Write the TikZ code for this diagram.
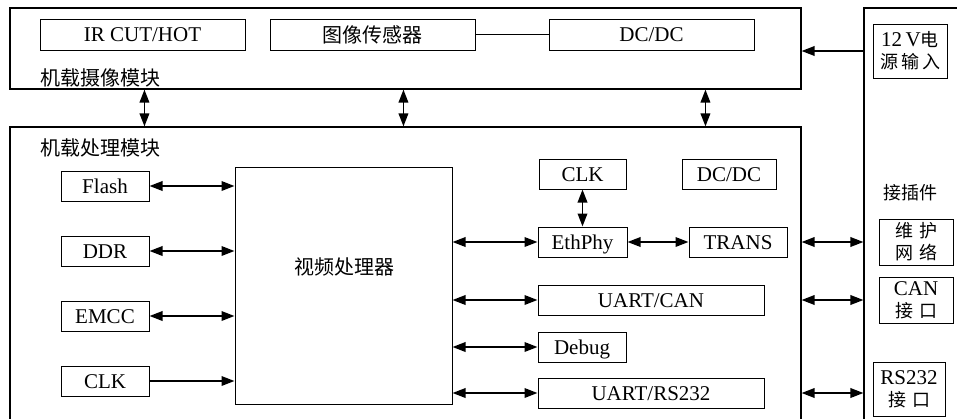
\documentclass[tikz,border=0pt]{standalone}
\usepackage{fontspec}
\setmainfont{Liberation Serif}
\newfontfamily\cjk{Noto Sans CJK SC}
\usetikzlibrary{arrows.meta}
\begin{document}
\begin{tikzpicture}[x=1pt,y=-1pt,
  box/.style={draw, line width=1pt, inner sep=0pt, align=center,
    font=\fontsize{21}{23}\selectfont},
  one/.style={box, text height=14pt, text depth=0pt},
  frame/.style={draw, line width=1.1pt, inner sep=0pt},
  lbl/.style={inner sep=0pt, font=\fontsize{20}{23}\selectfont\cjk},
  cn/.style={font=\fontsize{18}{23}\selectfont\cjk},
  biarrow/.style={line width=1.9pt,
    {Triangle[length=13pt,width=9.5pt]}-{Triangle[length=13pt,width=9.5pt]}},
  onearrow/.style={line width=1.9pt, -{Triangle[length=13pt,width=9.5pt]}}
]
\useasboundingbox (0,0) rectangle (957,418);
\clip (0,0) rectangle (957,418);

% camera module
\node[frame, minimum width=791pt, minimum height=81pt] (cam) at (405.5,48.5) {};
\node[one, minimum width=205pt, minimum height=31pt] (ir) at (142.5,34.5) {IR CUT/HOT};
\node[box, minimum width=205pt, minimum height=31pt, font=\fontsize{20}{23}\selectfont\cjk] (sensor) at (372.5,34.5) {图像传感器};
\node[one, minimum width=205pt, minimum height=31pt] (dc1) at (651.5,34.5) {DC/DC};
\node[lbl, anchor=west] (camlbl) at (40,78) {机载摄像模块};
\draw[line width=1pt] (sensor.east) -- (dc1.west);

% processing module
\node[frame, minimum width=791pt, minimum height=313pt] (proc) at (405.5,283.5) {};
\node[lbl, anchor=west] (proclbl) at (40,148) {机载处理模块};

\node[one, minimum width=88pt, minimum height=30pt] (flash) at (105,186) {Flash};
\node[one, minimum width=88pt, minimum height=30pt] (ddr) at (105,251) {DDR};
\node[one, minimum width=88pt, minimum height=30pt] (emcc) at (105,316) {EMCC};
\node[one, minimum width=88pt, minimum height=30pt] (clk1) at (105,381) {CLK};

\node[frame, line width=1pt, minimum width=217pt, minimum height=237pt] (vp) at (343.5,285.5) {};
\node[lbl] (vplbl) at (344,267) {视频处理器};

\node[one, minimum width=87pt, minimum height=30pt] (clk2) at (582.5,174) {CLK};
\node[one, minimum width=94pt, minimum height=30pt] (dc2) at (729,174) {DC/DC};
\node[one, minimum width=89pt, minimum height=30pt] (eth) at (582.5,242) {EthPhy};
\node[one, minimum width=98pt, minimum height=30pt] (trans) at (738,242) {TRANS};
\node[one, minimum width=226pt, minimum height=30pt] (ucan) at (651,300) {UART/CAN};
\node[one, minimum width=88pt, minimum height=30pt] (debug) at (582,347) {Debug};
\node[one, minimum width=226pt, minimum height=30pt] (urs) at (651,393) {UART/RS232};

% connector panel
\node[frame, minimum width=116pt, minimum height=432pt] (conn) at (922,224) {};
\node[box, minimum width=74pt, minimum height=54pt] (pwr) at (910,51) {12\,V{\cjk\fontsize{18}{23}\selectfont 电}\\[-1pt]{\cjk\fontsize{18}{23}\selectfont 源\,输\,入}};
\node[cn, inner sep=0pt] (connlbl) at (910,193) {接插件};
\node[box, cn, minimum width=74pt, minimum height=46pt] (maint) at (916,242) {维\,\,护\\[-1pt]网\,\,络};
\node[box, minimum width=74pt, minimum height=46pt] (can) at (916,300) {CAN\\[-1pt]{\cjk\fontsize{18}{23}\selectfont 接\,\,口}};
\node[box, minimum width=72pt, minimum height=54pt] (rs) at (909,389) {RS232\\[-1pt]{\cjk\fontsize{18}{23}\selectfont 接\,\,口}};

% arrows
\draw[onearrow] (conn.west |- pwr) -- (cam.east |- pwr);
\draw[biarrow] ([xshift=135pt]cam.south west) -- ([xshift=135pt]cam.south west |- proc.north);
\draw[biarrow] ([xshift=394pt]cam.south west) -- ([xshift=394pt]cam.south west |- proc.north);
\draw[biarrow] ([xshift=696pt]cam.south west) -- ([xshift=696pt]cam.south west |- proc.north);

\draw[biarrow] (flash.east) -- (vp.west |- flash.east);
\draw[biarrow] (ddr.east) -- (vp.west |- ddr.east);
\draw[biarrow] (emcc.east) -- (vp.west |- emcc.east);
\draw[onearrow] (clk1.east) -- (vp.west |- clk1.east);

\draw[biarrow] (vp.east |- eth.west) -- (eth.west);
\draw[biarrow] (clk2.south) -- (eth.north);
\draw[biarrow] (eth.east) -- (trans.west);
\draw[biarrow] (vp.east |- ucan.west) -- (ucan.west);
\draw[biarrow] (vp.east |- debug.west) -- (debug.west);
\draw[biarrow] (vp.east |- urs.west) -- (urs.west);

\draw[biarrow] (proc.east |- trans) -- (conn.west |- trans);
\draw[biarrow] (proc.east |- ucan) -- (conn.west |- ucan);
\draw[biarrow] (proc.east |- urs) -- (conn.west |- urs);
\end{tikzpicture}
\end{document}
